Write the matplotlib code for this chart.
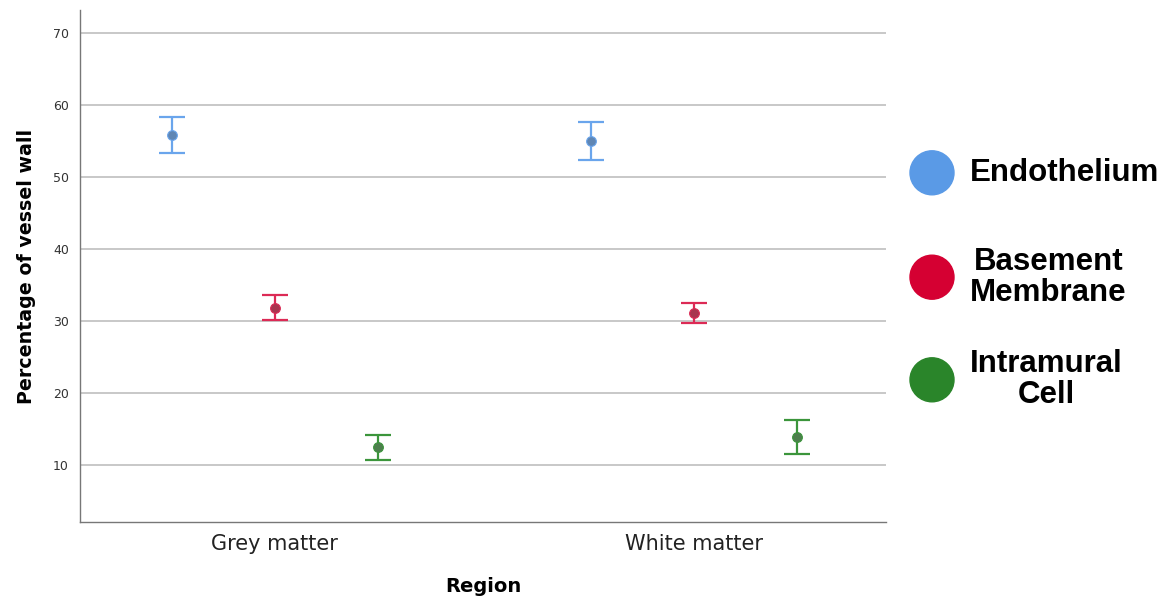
import matplotlib
matplotlib.use('Agg')
import matplotlib.pyplot as plt
import numpy as np
from matplotlib.patches import Ellipse

regions = ['Grey matter', 'White matter']
series = ['Endothelium', 'Basement\nMembrane', 'Intramural\nCell']
means = {
    'Endothelium': [55.8, 55.0],
    'Basement\nMembrane': [31.8, 31.1],
    'Intramural\nCell': [12.5, 13.9],
}
upper = {
    'Endothelium': [58.3, 57.6],
    'Basement\nMembrane': [33.6, 32.5],
    'Intramural\nCell': [14.2, 16.3],
}
lower = {
    'Endothelium': [53.3, 52.4],
    'Basement\nMembrane': [30.1, 29.8],
    'Intramural\nCell': [10.7, 11.5],
}
bar_colors = ['#6aa5ec', '#dc2a55', '#3b953b']
dot_colors = ['#5f86b4', '#a8354f', '#4d7f4d']
legend_colors = ['#5a9ae6', '#d50032', '#2a852a']

W, H = 1168, 600
fig = plt.figure(figsize=(W / 100, H / 100), dpi=100)
ax = fig.add_axes([0.0685, 0.13, 0.69, 0.853])

x = np.arange(len(regions))
offsets = [-0.246, 0, 0.246]
for i, s in enumerate(series):
    m = np.array(means[s])
    err = [m - np.array(lower[s]), np.array(upper[s]) - m]
    ax.errorbar(x + offsets[i], m, yerr=err, fmt='none', ecolor=bar_colors[i],
                elinewidth=1.6, capsize=9.5, capthick=1.6, zorder=3)
    ax.plot(x + offsets[i], m, 'o', color=dot_colors[i], markersize=7,
            markeredgecolor=bar_colors[i], markeredgewidth=0.8, zorder=4)

ax.set_xlim(-0.465, 1.458)
ax.set_ylim(2.1, 73.2)
ax.set_yticks([10, 20, 30, 40, 50, 60, 70])
ax.set_xticks(x)
ax.set_xticklabels(regions, fontsize=15)
ax.tick_params(axis='y', labelsize=9, length=0, pad=8, labelcolor='#333333')
ax.tick_params(axis='x', length=0, pad=9, labelcolor='#222222')
ax.yaxis.grid(True, color='#c8c8c8', linewidth=1.4)
ax.set_axisbelow(True)
for side in ['top', 'right']:
    ax.spines[side].set_visible(False)
for side in ['left', 'bottom']:
    ax.spines[side].set_color('#777777')
    ax.spines[side].set_linewidth(1.0)

ax.set_ylabel('Percentage of vessel wall', fontsize=13.7, fontweight='bold', labelpad=12)
ax.set_xlabel('Region', fontsize=14, fontweight='bold', labelpad=16)

# legend drawn by hand on the right side of the figure
leg_y = [0.712, 0.538, 0.367]
for i, s in enumerate(series):
    fig.add_artist(Ellipse((932 / W, leg_y[i]), width=44 / W, height=44 / H,
                           transform=fig.transFigure, color=legend_colors[i]))
    fig.text(970 / W, leg_y[i], s, ha='left', va='center', fontsize=22.5,
             fontweight='bold', family='Liberation Sans', multialignment='center',
             linespacing=1.05)

fig.savefig('out.png', dpi=100)
